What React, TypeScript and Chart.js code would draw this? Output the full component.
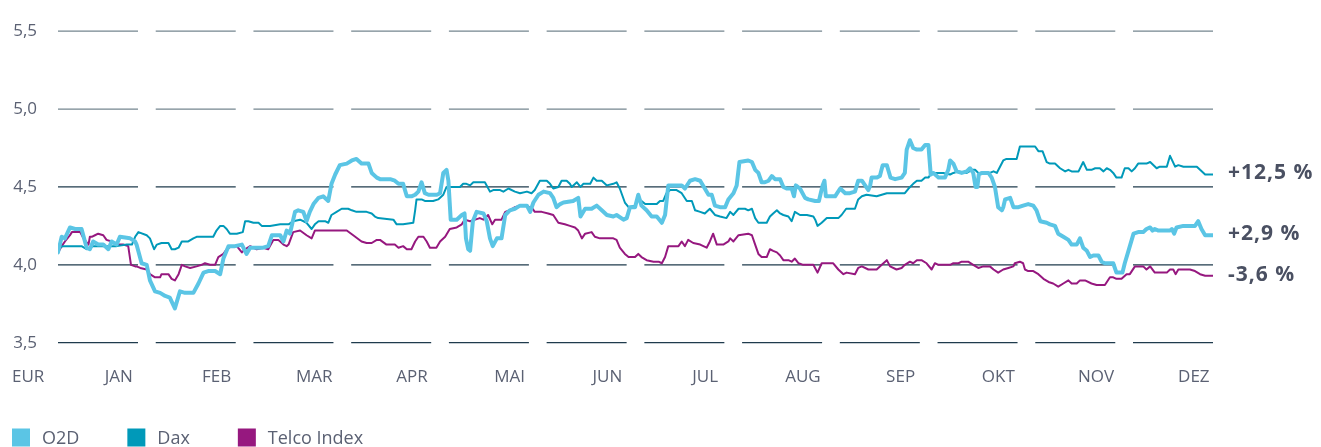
import React, { useEffect, useRef } from 'react';
import Chart from 'chart.js/auto';

// ---------- data ----------
const months = ['JAN', 'FEB', 'MAR', 'APR', 'MAI', 'JUN', 'JUL', 'AUG', 'SEP', 'OKT', 'NOV', 'DEZ'];
const unitLabel = 'EUR';
const yTickValues = [3.5, 4.0, 4.5, 5.0, 5.5];
const seriesNames = ['O2D', 'Dax', 'Telco Index'];
const seriesColors = ['#5bc5e5', '#0099b9', '#96187f'];
const endLabels = ['+2,9 %', '+12,5 %', '-3,6 %'];
const DAY_MAX = 250; // trading days in the year

const o2dDays = [0.0, 0.8, 1.5, 2.6, 3.7, 5.1, 6.2, 6.9, 7.6, 8.7, 9.8, 10.9, 11.6, 12.7, 13.4, 15.6, 16.7, 17.0, 18.1, 19.2, 19.9, 21.0, 22.1, 23.2, 24.2, 25.3, 26.4, 27.5, 29.3, 30.4, 31.5, 32.5, 34.0, 35.1, 35.8, 36.9, 38.3, 39.8, 40.8, 41.6, 43.0, 44.4, 45.5, 46.3, 48.1,
  48.8, 49.5, 50.2, 51.3, 52.0, 53.1, 53.8, 54.5, 55.3, 56.4, 57.4, 58.5, 59.2, 60.0, 61.0, 62.5, 63.6, 64.6, 65.7, 67.2, 67.9, 69.0, 69.7, 71.9, 72.9, 73.7, 74.7, 75.5, 76.5, 77.3, 78.0, 78.7, 79.4, 80.2, 82.0, 82.7, 83.4, 84.1, 84.5, 85.0, 86.3, 87.4, 88.0, 88.3, 88.8, 89.2, 89.8, 90.6, 92.1, 92.8, 93.5, 94.1, 95.0, 96.0, 96.8, 97.8,
  98.9, 100.0, 101.5, 102.2, 102.9, 104.0, 105.1, 106.5, 107.2, 107.9, 108.7, 109.4, 111.5, 112.6, 113.1, 114.1, 115.5, 116.6, 117.7, 118.8, 120.2, 120.9, 122.4, 123.1, 123.8, 124.9, 125.6, 126.3, 127.4, 128.5, 129.6, 130.7, 131.4, 132.1, 133.2, 135.0, 135.7, 136.8, 137.9, 139.0, 140.0, 140.8, 141.5, 142.2, 143.3, 144.4, 145.1, 146.2, 146.9, 147.5,
  149.4, 150.2, 150.9, 151.6, 152.3, 153.0, 153.8, 154.5, 155.2, 156.3, 157.0, 157.7, 158.8, 159.3, 159.7, 160.6, 161.7, 162.4, 163.9, 164.7, 165.5, 165.9, 166.2, 167.1, 168.2, 169.3, 170.4, 171.4, 172.5, 173.2, 174.0, 175.4, 175.8, 176.1, 177.2, 177.9, 178.5, 179.4, 180.2, 181.2, 182.6, 183.3, 183.7, 184.4, 185.1, 185.9, 186.9, 187.7, 188.4, 188.9, 189.5, 190.6, 192.0, 192.7, 193.1, 193.8, 194.5, 195.6, 196.7, 197.4,
  198.1, 198.6, 199.0, 199.3, 199.9, 201.4, 202.1, 202.8, 203.5, 204.3, 204.6, 205.0, 206.1, 206.8, 207.9, 208.9, 210.0, 211.1, 211.8, 212.6, 214.0, 214.7, 215.8, 216.5, 217.6, 218.7, 219.4, 220.5, 221.2, 221.9, 222.7, 223.4, 224.1, 225.2, 225.9, 226.6, 227.7, 228.4, 229.1, 229.9, 230.4, 230.9, 231.7, 232.8, 233.8, 234.9, 235.6, 236.4, 236.9, 237.4, 238.2, 239.2, 240.7, 241.1, 241.6, 242.1, 243.6, 245.0, 246.1, 246.8, 247.5, 248.3, 249.3, 250.0];
const o2dValues = [4.08, 4.18, 4.17, 4.24, 4.23, 4.23, 4.11, 4.10, 4.15, 4.13, 4.13, 4.10, 4.15, 4.13, 4.18, 4.17, 4.15, 4.13, 4.01, 4.00, 3.90, 3.83, 3.82, 3.80, 3.79, 3.72, 3.83, 3.82, 3.82, 3.88, 3.95, 3.96, 3.96, 3.94, 4.04, 4.12, 4.12, 4.13, 4.07, 4.11, 4.11, 4.11, 4.12, 4.19, 4.19,
  4.15, 4.22, 4.20, 4.34, 4.35, 4.34, 4.28, 4.34, 4.39, 4.43, 4.44, 4.41, 4.52, 4.58, 4.64, 4.65, 4.67, 4.68, 4.65, 4.65, 4.59, 4.56, 4.55, 4.55, 4.54, 4.52, 4.52, 4.44, 4.44, 4.45, 4.47, 4.53, 4.46, 4.45, 4.45, 4.46, 4.59, 4.61, 4.54, 4.29, 4.29, 4.32, 4.33, 4.17, 4.10, 4.09, 4.28, 4.34, 4.33, 4.28, 4.17, 4.12, 4.17, 4.17, 4.32, 4.35,
  4.36, 4.38, 4.38, 4.34, 4.40, 4.45, 4.47, 4.46, 4.43, 4.37, 4.39, 4.40, 4.41, 4.43, 4.31, 4.36, 4.36, 4.38, 4.35, 4.32, 4.31, 4.32, 4.29, 4.30, 4.37, 4.37, 4.45, 4.38, 4.35, 4.31, 4.31, 4.27, 4.32, 4.51, 4.51, 4.51, 4.49, 4.54, 4.55, 4.54, 4.49, 4.45, 4.45, 4.38, 4.37, 4.37, 4.42, 4.46, 4.51, 4.66,
  4.67, 4.66, 4.61, 4.59, 4.53, 4.53, 4.54, 4.57, 4.55, 4.55, 4.50, 4.49, 4.49, 4.44, 4.51, 4.49, 4.43, 4.42, 4.41, 4.41, 4.51, 4.54, 4.44, 4.44, 4.44, 4.49, 4.46, 4.46, 4.47, 4.54, 4.54, 4.48, 4.51, 4.56, 4.56, 4.57, 4.64, 4.64, 4.56, 4.55, 4.56, 4.59, 4.74, 4.80, 4.75, 4.74, 4.74, 4.77, 4.77, 4.58, 4.59, 4.56, 4.56, 4.61, 4.67, 4.65, 4.60, 4.59, 4.60, 4.62,
  4.59, 4.50, 4.50, 4.58, 4.59, 4.59, 4.56, 4.50, 4.37, 4.35, 4.37, 4.42, 4.43, 4.37, 4.37, 4.38, 4.39, 4.38, 4.35, 4.28, 4.27, 4.26, 4.25, 4.20, 4.18, 4.16, 4.13, 4.13, 4.17, 4.11, 4.09, 4.05, 4.06, 4.06, 4.02, 4.01, 4.01, 4.01, 3.95, 3.95, 3.95, 4.01, 4.09, 4.20, 4.21, 4.21, 4.23, 4.24, 4.22, 4.23, 4.22, 4.22, 4.22, 4.23, 4.20, 4.24, 4.25, 4.25, 4.25, 4.28, 4.23, 4.19, 4.19, 4.19];

const daxDays = [0.0, 1.2, 4.0, 5.1, 6.2, 7.6, 10.9, 12.7, 14.9, 16.0, 16.7, 17.4, 19.2, 19.9, 20.8, 21.4, 22.4, 23.9, 24.6, 25.3, 26.1, 26.8, 28.2, 29.3, 30.0, 33.6, 34.3, 35.1, 35.8, 36.5, 37.2, 38.7, 40.0, 40.5, 41.2, 42.3, 43.4, 44.1, 45.9, 48.1,
  49.9, 50.9, 52.4, 53.8, 54.9, 55.6, 56.4, 57.8, 58.5, 59.2, 60.3, 61.4, 62.8, 63.6, 64.6, 66.8, 67.9, 68.6, 69.3, 72.6, 73.3, 74.7, 76.9, 77.3, 77.6, 78.7, 79.4, 81.2, 82.3, 83.4, 84.1, 85.2, 87.0, 87.7, 88.4, 89.2, 89.9, 91.3, 92.4, 93.5, 94.2, 95.7, 96.4, 97.5,
  98.9, 100.0, 101.5, 102.5, 103.2, 104.3, 105.8, 106.5, 107.2, 108.3, 109.0, 110.1, 110.8, 111.2, 112.3, 113.1, 113.7, 115.2, 115.9, 116.6, 117.7, 118.8, 120.2, 120.9, 121.6, 122.7, 123.5, 124.9, 125.6, 126.3, 127.1, 129.6, 130.3, 131.0, 131.7, 132.5, 133.9, 135.0, 136.1, 137.2, 137.9, 139.0, 140.0, 141.1, 142.2, 143.3, 144.7, 145.5, 146.2, 147.3,
  148.7, 149.4, 150.2, 150.9, 151.6, 153.4, 154.1, 154.8, 155.6, 156.3, 157.0, 158.1, 158.8, 159.5, 160.6, 162.1, 163.5, 163.9, 164.4, 165.3, 166.4, 167.8, 168.9, 169.6, 170.6, 172.5, 173.2, 174.0, 175.0, 177.2, 178.3, 179.4, 180.5, 183.3, 184.1, 185.1, 185.9, 186.9, 187.7, 188.4, 189.1, 191.6, 193.1, 193.8, 194.9, 196.7, 197.8,
  198.5, 199.2, 201.7, 202.5, 203.2, 204.6, 205.3, 207.5, 208.2, 208.9, 211.5, 212.2, 213.1, 214.0, 214.7, 215.8, 216.9, 218.0, 218.7, 219.4, 220.9, 221.9, 222.7, 223.7, 224.5, 225.5, 226.3, 227.0, 227.7, 228.4, 229.1, 230.2, 230.9, 231.7, 232.4, 233.1, 233.8, 234.9, 235.6, 236.4, 237.8, 238.5, 240.0, 240.7, 241.8, 242.5, 243.6, 245.0, 246.5, 247.2, 248.3, 250.0];
const daxValues = [4.11, 4.12, 4.12, 4.12, 4.10, 4.12, 4.12, 4.12, 4.13, 4.13, 4.18, 4.21, 4.19, 4.17, 4.10, 4.13, 4.14, 4.14, 4.10, 4.10, 4.11, 4.15, 4.15, 4.17, 4.18, 4.18, 4.22, 4.25, 4.25, 4.23, 4.20, 4.20, 4.21, 4.28, 4.28, 4.27, 4.27, 4.25, 4.25, 4.26,
  4.26, 4.28, 4.29, 4.27, 4.23, 4.26, 4.28, 4.28, 4.27, 4.32, 4.34, 4.36, 4.36, 4.35, 4.34, 4.34, 4.33, 4.31, 4.30, 4.29, 4.26, 4.26, 4.27, 4.35, 4.42, 4.42, 4.41, 4.41, 4.42, 4.45, 4.50, 4.50, 4.50, 4.52, 4.52, 4.51, 4.53, 4.53, 4.53, 4.47, 4.48, 4.48, 4.47, 4.49,
  4.47, 4.46, 4.47, 4.46, 4.48, 4.54, 4.54, 4.52, 4.49, 4.50, 4.54, 4.54, 4.52, 4.50, 4.53, 4.50, 4.52, 4.52, 4.56, 4.54, 4.54, 4.51, 4.52, 4.53, 4.49, 4.40, 4.37, 4.38, 4.42, 4.41, 4.39, 4.39, 4.41, 4.41, 4.46, 4.48, 4.48, 4.46, 4.41, 4.41, 4.35, 4.34, 4.33, 4.36, 4.32, 4.31, 4.30, 4.34, 4.32, 4.36,
  4.36, 4.35, 4.36, 4.30, 4.27, 4.27, 4.31, 4.33, 4.35, 4.33, 4.32, 4.31, 4.28, 4.34, 4.32, 4.32, 4.31, 4.29, 4.25, 4.27, 4.30, 4.30, 4.30, 4.32, 4.36, 4.36, 4.42, 4.44, 4.45, 4.44, 4.45, 4.46, 4.46, 4.46, 4.49, 4.52, 4.54, 4.54, 4.56, 4.56, 4.59, 4.59, 4.58, 4.59, 4.60, 4.59, 4.61,
  4.61, 4.59, 4.59, 4.60, 4.59, 4.67, 4.68, 4.68, 4.76, 4.76, 4.76, 4.73, 4.73, 4.66, 4.65, 4.65, 4.62, 4.60, 4.61, 4.60, 4.60, 4.66, 4.61, 4.61, 4.62, 4.62, 4.60, 4.62, 4.61, 4.59, 4.56, 4.56, 4.62, 4.62, 4.60, 4.62, 4.65, 4.65, 4.65, 4.66, 4.62, 4.63, 4.63, 4.70, 4.63, 4.64, 4.63, 4.63, 4.63, 4.61, 4.58, 4.58];

const telcoDays = [0.0, 0.8, 1.5, 2.6, 3.0, 4.8, 5.5, 6.6, 6.9, 7.3, 8.0, 8.7, 9.8, 10.5, 11.6, 12.7, 14.1, 15.2, 15.8, 16.7, 17.0, 17.8, 19.2, 19.9, 21.0, 22.1, 22.4, 23.9, 24.6, 25.3, 26.1, 26.8, 27.5, 28.6, 30.0, 31.1, 31.8, 32.9, 34.0, 34.7, 35.8, 36.5, 37.6, 38.7, 39.8, 40.5, 41.6, 43.0, 44.4, 45.5, 46.6, 47.7,
  48.1, 48.8, 49.5, 49.9, 50.9, 52.4, 53.8, 54.9, 55.6, 57.4, 60.3, 61.8, 62.5, 63.9, 65.7, 66.8, 67.9, 69.0, 69.7, 71.1, 72.9, 73.7, 74.7, 75.5, 76.5, 77.3, 78.0, 79.1, 79.8, 80.5, 81.9, 82.7, 83.8, 84.8, 86.3, 87.4, 88.0, 89.2, 90.3, 91.3, 92.1, 93.1, 94.0, 94.6, 96.0, 96.8, 97.8,
  98.9, 100.0, 101.1, 101.8, 102.5, 103.2, 104.7, 106.1, 107.2, 108.3, 109.7, 110.8, 111.9, 112.6, 113.4, 114.1, 115.5, 116.2, 117.3, 120.2, 120.9, 121.6, 122.7, 123.5, 124.9, 125.6, 126.3, 127.4, 128.9, 130.0, 130.7, 131.4, 132.1, 134.3, 135.0, 135.7, 136.4, 137.5, 139.0, 139.7, 140.4, 141.1, 141.8, 142.6, 144.0, 145.1, 145.5, 146.2, 147.3,
  149.4, 150.2, 150.9, 151.6, 152.3, 153.4, 154.1, 154.8, 155.6, 156.3, 157.0, 158.1, 158.8, 159.5, 160.3, 161.3, 162.8, 163.5, 164.4, 165.3, 166.4, 167.8, 168.9, 170.0, 170.7, 172.5, 173.2, 174.0, 175.4, 177.2, 178.3, 179.4, 180.1, 181.5, 182.6, 183.3, 184.4, 185.1, 185.9, 186.9, 188.0, 189.1, 189.8, 190.6, 191.3, 193.1, 193.8, 194.9, 195.6, 197.0,
  198.1, 199.2, 200.3, 201.7, 202.5, 203.5, 204.6, 205.7, 206.8, 207.1, 208.2, 208.9, 209.3, 210.0, 211.1, 212.2, 213.3, 214.4, 215.4, 216.5, 217.6, 218.7, 219.4, 220.5, 221.2, 222.3, 223.7, 224.8, 225.9, 226.6, 227.7, 228.4, 229.1, 230.2, 231.3, 232.0, 233.1, 234.9, 235.6, 236.4, 237.4, 238.5, 240.0, 240.7, 241.4, 241.9, 242.5, 243.6, 245.0, 246.1, 247.2, 248.3, 250.0];
const telcoValues = [4.08, 4.12, 4.15, 4.19, 4.21, 4.21, 4.17, 4.13, 4.18, 4.18, 4.19, 4.20, 4.19, 4.16, 4.15, 4.13, 4.13, 4.12, 4.00, 3.99, 3.99, 3.98, 3.97, 3.94, 3.92, 3.92, 3.94, 3.94, 3.91, 3.90, 3.94, 4.00, 3.99, 3.98, 3.99, 4.00, 4.01, 4.00, 4.00, 4.05, 4.07, 4.10, 4.12, 4.12, 4.08, 4.10, 4.12, 4.10, 4.11, 4.10, 4.16, 4.16,
  4.15, 4.13, 4.12, 4.13, 4.21, 4.22, 4.19, 4.17, 4.22, 4.22, 4.22, 4.22, 4.22, 4.19, 4.15, 4.14, 4.14, 4.16, 4.16, 4.13, 4.13, 4.11, 4.12, 4.10, 4.10, 4.15, 4.18, 4.18, 4.15, 4.11, 4.11, 4.15, 4.18, 4.23, 4.24, 4.26, 4.29, 4.28, 4.29, 4.30, 4.29, 4.32, 4.26, 4.29, 4.29, 4.34, 4.35,
  4.37, 4.38, 4.38, 4.37, 4.37, 4.34, 4.34, 4.33, 4.32, 4.27, 4.26, 4.25, 4.24, 4.22, 4.17, 4.20, 4.21, 4.18, 4.17, 4.17, 4.16, 4.11, 4.07, 4.05, 4.05, 4.07, 4.05, 4.03, 4.02, 4.02, 4.01, 4.05, 4.12, 4.12, 4.15, 4.12, 4.16, 4.14, 4.13, 4.12, 4.11, 4.15, 4.20, 4.13, 4.13, 4.15, 4.17, 4.15, 4.19,
  4.20, 4.19, 4.13, 4.07, 4.05, 4.05, 4.10, 4.09, 4.08, 4.06, 4.03, 4.03, 4.02, 4.04, 4.01, 4.00, 4.00, 4.00, 3.95, 4.01, 4.01, 4.01, 3.97, 3.94, 3.95, 3.94, 3.98, 3.99, 3.97, 3.97, 4.00, 4.03, 3.99, 3.97, 3.98, 4.00, 4.02, 4.01, 4.03, 4.03, 4.01, 3.97, 4.01, 4.00, 4.00, 4.00, 4.01, 4.01, 4.02, 4.02,
  4.00, 3.98, 3.99, 3.99, 3.97, 3.95, 3.97, 3.98, 3.99, 4.01, 4.02, 4.01, 3.97, 3.96, 3.96, 3.94, 3.91, 3.89, 3.88, 3.86, 3.88, 3.90, 3.88, 3.88, 3.90, 3.90, 3.88, 3.87, 3.87, 3.87, 3.92, 3.92, 3.91, 3.91, 3.94, 3.94, 3.99, 3.99, 3.97, 3.99, 3.95, 3.95, 3.95, 3.97, 3.97, 3.94, 3.97, 3.97, 3.97, 3.96, 3.94, 3.93, 3.93];

// ---------- style ----------
const FONT = '"Open Sans", "Noto Sans", sans-serif';
const TEXT_COLOR = '#5b6173';
const LABEL_COLOR = '#4a5062';
const GRID_UPPER = '#75868f';
const GRID_LOWER = '#1f3b4d';
const MONTH_GAP_RATIO = 0.2216; // gap between month grid segments relative to segment length
const LABEL_POS_IN_SEGMENT = 0.76;

const segLen = DAY_MAX / (12 + 11 * MONTH_GAP_RATIO);
const segStart = (i: number) => i * segLen * (1 + MONTH_GAP_RATIO);

const zip = (xs: number[], ys: number[]) => xs.map((x, i) => ({ x, y: ys[i] }));
const seriesData = [zip(o2dDays, o2dValues), zip(daxDays, daxValues), zip(telcoDays, telcoValues)];
const seriesWidths = [4, 2, 2];

const segmentGrid = {
  id: 'segmentGrid',
  beforeDatasetsDraw(chart: any) {
    const { ctx } = chart;
    const xs = chart.scales.x;
    const ys = chart.scales.y;
    ctx.save();
    ctx.lineWidth = 1.3;
    yTickValues.forEach((v) => {
      const y = ys.getPixelForValue(v);
      ctx.strokeStyle = v >= 5 ? GRID_UPPER : GRID_LOWER;
      for (let i = 0; i < months.length; i++) {
        const a = xs.getPixelForValue(segStart(i));
        const b = xs.getPixelForValue(segStart(i) + segLen);
        ctx.beginPath();
        ctx.moveTo(a, y);
        ctx.lineTo(b, y);
        ctx.stroke();
      }
    });
    ctx.restore();
  },
};

const extras = {
  id: 'extras',
  afterDraw(chart: any) {
    const { ctx, chartArea } = chart;
    const ys = chart.scales.y;
    ctx.save();
    // end-of-line performance labels
    ctx.font = `bold 21px ${FONT}`;
    (ctx as any).letterSpacing = '1px';
    ctx.fillStyle = LABEL_COLOR;
    ctx.textAlign = 'left';
    ctx.textBaseline = 'middle';
    seriesData.forEach((d, i) => {
      const last = d[d.length - 1];
      ctx.fillText(endLabels[i], chartArea.right + 15, ys.getPixelForValue(last.y) - 1);
    });
    (ctx as any).letterSpacing = '0px';
    // unit label under the y axis
    ctx.font = `17px ${FONT}`;
    ctx.fillStyle = TEXT_COLOR;
    ctx.fillText(unitLabel, 12, chartArea.bottom + 34.5);
    // legend
    ctx.font = `18px ${FONT}`;
    let x = 12;
    const top = 428.5;
    chart.data.datasets.forEach((ds: any) => {
      ctx.fillStyle = ds.borderColor;
      ctx.fillRect(x, top, 18, 18);
      ctx.fillStyle = TEXT_COLOR;
      ctx.fillText(ds.label, x + 30, top + 10);
      x += 30 + ctx.measureText(ds.label).width + 48;
    });
    ctx.restore();
  },
};

export default function App() {
  const ref = useRef<HTMLCanvasElement>(null);
  useEffect(() => {
    if (!ref.current) return;
    const chart = new Chart(ref.current, {
      type: 'line',
      data: {
        datasets: seriesNames.map((name, i) => ({
          label: name,
          data: seriesData[i],
          borderColor: seriesColors[i],
          backgroundColor: seriesColors[i],
          borderWidth: seriesWidths[i],
          pointRadius: 0,
          tension: 0,
          borderJoinStyle: 'round',
          borderCapStyle: 'round',
          fill: false,
        })),
      },
      options: {
        animation: false,
        responsive: false,
        maintainAspectRatio: false,
        layout: { padding: { top: 29.3, right: 108, bottom: 49.3, left: 0 } },
        plugins: { legend: { display: false }, tooltip: { enabled: false } },
        scales: {
          x: {
            type: 'linear',
            min: 0,
            max: DAY_MAX,
            grid: { display: false, drawTicks: false },
            border: { display: false },
            afterBuildTicks: (s: any) => {
              s.ticks = months.map((_, i) => ({ value: segStart(i) + LABEL_POS_IN_SEGMENT * segLen }));
            },
            afterFit: (s: any) => { s.height = 55; },
            ticks: {
              autoSkip: false,
              maxRotation: 0,
              minRotation: 0,
              padding: 24,
              color: TEXT_COLOR,
              font: { family: FONT, size: 17 },
              callback: (_v: any, i: number) => months[i],
            },
          },
          y: {
            min: 3.5,
            max: 5.5,
            grid: { display: false, drawTicks: false },
            border: { display: false },
            afterBuildTicks: (s: any) => {
              s.ticks = yTickValues.map((v) => ({ value: v }));
            },
            afterFit: (s: any) => { s.width = 58; },
            ticks: {
              padding: 21,
              color: TEXT_COLOR,
              font: { family: FONT, size: 17 },
              callback: (v: any) => Number(v).toFixed(1).replace('.', ','),
            },
          },
        },
      },
      plugins: [segmentGrid, extras],
    } as any);
    return () => chart.destroy();
  }, []);
  return (
    <div style={{ position: 'absolute', left: 0, top: 0, width: 1321, height: 447 }}>
      <canvas ref={ref} width={1321} height={447} style={{ display: 'block' }} />
    </div>
  );
}
